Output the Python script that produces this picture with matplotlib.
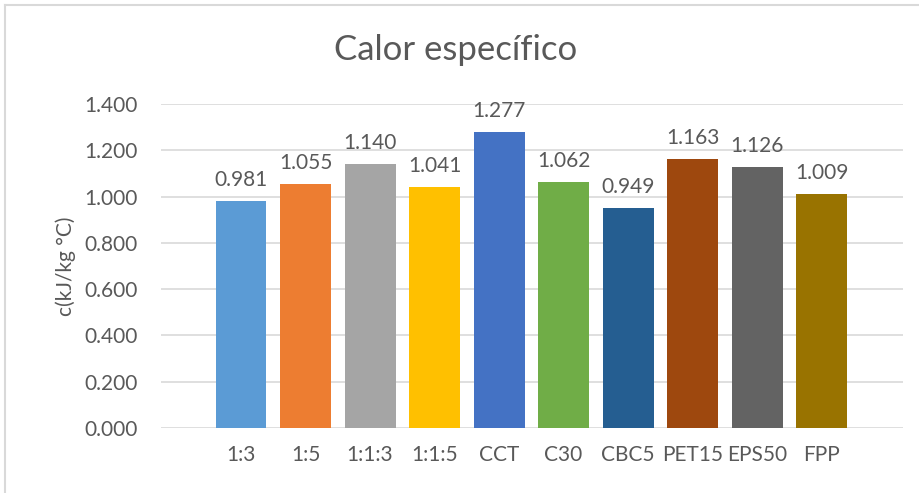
import matplotlib
matplotlib.use("Agg")
import matplotlib.pyplot as plt
from matplotlib.lines import Line2D

categories = ["1:3", "1:5", "1:1:3", "1:1:5", "CCT", "C30", "CBC5", "PET15", "EPS50", "FPP"]
values = [0.981, 1.055, 1.140, 1.041, 1.277, 1.062, 0.949, 1.163, 1.126, 1.009]
colors = ["#5B9BD5", "#ED7D31", "#A5A5A5", "#FFC000", "#4472C4",
          "#70AD47", "#255E91", "#9E480E", "#636363", "#997300"]
yticks = [0.0, 0.2, 0.4, 0.6, 0.8, 1.0, 1.2, 1.4]

plt.rcParams['font.family'] = ['Lato', 'DejaVu Sans']
txt = "#595959"
fs = 15

fig = plt.figure(figsize=(9.2, 4.93), dpi=100)
ax = fig.add_axes([161/920, 1-428/493, (903-161)/920, (428-104)/493])

x = list(range(len(categories)))
ax.bar(x, values, width=0.79, color=colors, zorder=3)
for xi, v in zip(x, values):
    ax.annotate(f"{v:.3f}", (xi, v), xytext=(0, 8), textcoords="offset points",
                ha="center", va="bottom", fontsize=fs, color=txt)

ax.set_xlim(-1.24, len(categories) - 1 + 1.26)
ax.set_ylim(0, 1.4)
ax.set_yticks(yticks)
ax.set_yticklabels([f"{t:.3f}" for t in yticks], fontsize=fs, color=txt)
ax.set_xticks(x)
ax.set_xticklabels(categories, fontsize=fs, color=txt)
ax.tick_params(length=0, pad=17)
ax.tick_params(axis='x', pad=12)
ax.grid(axis='y', color="#D9D9D9", linewidth=1.2, zorder=0)
for s in ax.spines.values():
    s.set_visible(False)
ax.set_ylabel("c(kJ/kg °C)", fontsize=fs, color=txt, labelpad=6)

fig.text(0.5 - 4/920, 1 - 50/493, "Calor específico", ha="center", va="center",
         fontsize=25, color=txt)

fig.add_artist(Line2D([5/920, 1], [1-5/493, 1-5/493], color="#D9D9D9", lw=1.5,
                      transform=fig.transFigure))
fig.add_artist(Line2D([5/920, 5/920], [0, 1-5/493], color="#D9D9D9", lw=1.5,
                      transform=fig.transFigure))

fig.savefig("out.png", dpi=100)
